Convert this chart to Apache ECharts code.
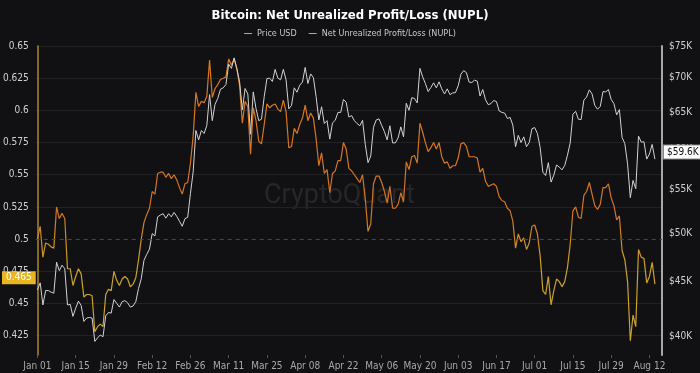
<!DOCTYPE html>
<html><head><meta charset="utf-8">
<script src="https://cdn.jsdelivr.net/npm/echarts@6/dist/echarts.min.js"></script>
<style>html,body{margin:0;padding:0;background:#111114;}#chart{width:700px;height:373px;}</style>
</head><body><div id="chart"></div>
<script>
const startDate = '2024-01-01';
const priceUSD = [
44200,44900,42800,44150,44150,44000,43900,46950,46100,46650,46300,42800,42850,41750,42500,43150,42750,41300,41600,41650,
41600,39550,39850,40100,39950,41800,42100,42050,43300,42950,42600,43100,43200,43000,42600,42700,43100,44350,45300,47150,
47750,48300,49950,49700,51800,52000,52150,51650,52150,51800,52300,51850,51300,50750,51600,51750,54500,57100,62450,61200,
62450,62050,63150,67500,63800,66100,66950,68300,68500,69000,72100,71450,73100,71400,69400,65300,68400,67600,61950,67900,
65500,63800,64000,67200,69900,69950,69450,71300,69950,69700,71300,69700,65450,65950,68500,67850,68900,69350,71600,69150,
70600,70050,67200,63900,65750,63400,63800,61300,63500,63850,64950,64950,66800,66400,64300,64500,63800,63400,63100,63850,
60600,58250,59100,62900,63900,64050,63150,62300,61200,63100,60800,60800,61450,62950,61600,66250,65250,67050,66950,66300,
71450,70150,69150,67950,68550,69250,68500,69400,68350,67600,68350,67500,67750,67800,68800,70550,71100,70800,69350,69300,
69650,69500,67300,68250,66750,66050,66200,66650,66500,65150,64950,64850,64100,64250,63200,60300,61800,60850,61600,60300,
60850,62700,62850,62050,60200,57050,56650,58250,55850,56700,57950,57700,57350,57900,59200,60800,64700,65100,64000,63950,
66700,67150,68200,67600,65950,65400,65800,67950,67900,68250,66800,66200,64600,65350,61500,60700,58100,54000,56050,55050,
61700,60900,60950,58700,59350,60600,58700
];
const nupl = [
0.500,0.510,0.486,0.497,0.496,0.494,0.493,0.525,0.516,0.520,0.516,0.477,0.477,0.464,0.471,0.477,0.473,0.455,0.457,0.457,
0.456,0.428,0.432,0.434,0.432,0.457,0.461,0.460,0.475,0.468,0.464,0.469,0.471,0.469,0.463,0.465,0.470,0.484,0.500,0.513,
0.519,0.524,0.537,0.535,0.551,0.552,0.552,0.548,0.551,0.547,0.550,0.546,0.540,0.535,0.543,0.544,0.559,0.580,0.614,0.603,
0.607,0.606,0.611,0.639,0.610,0.617,0.620,0.624,0.625,0.626,0.640,0.635,0.640,0.632,0.619,0.590,0.607,0.603,0.566,0.602,
0.592,0.576,0.574,0.589,0.605,0.602,0.604,0.605,0.601,0.599,0.608,0.599,0.571,0.572,0.586,0.582,0.589,0.594,0.604,0.592,
0.598,0.594,0.578,0.557,0.567,0.551,0.554,0.536,0.551,0.553,0.561,0.561,0.575,0.570,0.555,0.553,0.550,0.547,0.544,0.550,
0.531,0.506,0.512,0.543,0.549,0.549,0.544,0.537,0.528,0.541,0.524,0.524,0.527,0.536,0.529,0.560,0.554,0.564,0.565,0.559,
0.590,0.583,0.575,0.568,0.571,0.575,0.570,0.575,0.564,0.559,0.560,0.555,0.557,0.557,0.563,0.574,0.575,0.572,0.564,0.564,
0.564,0.563,0.552,0.555,0.545,0.541,0.542,0.543,0.541,0.533,0.530,0.529,0.524,0.522,0.514,0.493,0.504,0.498,0.501,0.492,
0.497,0.510,0.511,0.504,0.487,0.460,0.457,0.471,0.449,0.460,0.469,0.467,0.463,0.467,0.478,0.496,0.522,0.525,0.517,0.516,
0.534,0.537,0.544,0.535,0.526,0.523,0.527,0.540,0.540,0.543,0.532,0.526,0.515,0.518,0.491,0.484,0.467,0.421,0.441,0.432,
0.492,0.486,0.485,0.466,0.471,0.482,0.465
];
const nuplTicks = [0.425,0.45,0.475,0.5,0.525,0.55,0.575,0.6,0.625,0.65];
const nuplGridTicks = [0.425,0.45,0.475,0.525,0.55,0.575,0.6,0.625,0.65];
const priceTicks = [40000,45000,50000,55000,60000,65000,70000,75000];
const dateTicks = ['2024-01-01','2024-01-15','2024-01-29','2024-02-12','2024-02-26','2024-03-11','2024-03-25','2024-04-08','2024-04-22','2024-05-06','2024-05-20','2024-06-03','2024-06-17','2024-07-01','2024-07-15','2024-07-29','2024-08-12'];
const dateTickLabels = ['Jan 01','Jan 15','Jan 29','Feb 12','Feb 26','Mar 11','Mar 25','Apr 08','Apr 22','May 06','May 20','Jun 03','Jun 17','Jul 01','Jul 15','Jul 29','Aug 12'];
const lastNuplLabel = 0.465;
const lastPriceLabel = 59600;

const DAY = 86400000;
const t0 = Date.parse(startDate + 'T00:00:00Z');
// x axis in day offsets from startDate
const tickDays = dateTicks.map(d => Math.round((Date.parse(d + 'T00:00:00Z') - t0) / DAY));
const priceData = priceUSD.map((v, i) => [i, v]);
const nuplData = nupl.map((v, i) => [i, v]);
const FONT = "'Liberation Sans Narrow','DejaVu Sans Condensed',Roboto,sans-serif";

const chart = echarts.init(document.getElementById('chart'), null, {renderer: 'canvas'});
chart.setOption({
  animation: false,
  backgroundColor: '#111114',
  textStyle: {fontFamily: FONT},
  title: {
    text: 'Bitcoin: Net Unrealized Profit/Loss (NUPL)',
    left: 'center', top: 4,
    textStyle: {color: '#ffffff', fontSize: 13, fontWeight: 'bold', fontFamily: FONT}
  },
  legend: {
    top: 24, left: 'center', itemWidth: 8, itemHeight: 1, itemGap: 12, icon: 'rect',
    textStyle: {color: '#c8c8c8', fontSize: 9, fontFamily: FONT},
    data: [
      {name: 'Price USD', itemStyle: {color: '#aaaaaa'}},
      {name: 'Net Unrealized Profit/Loss (NUPL)', itemStyle: {color: '#aaaaaa'}}
    ]
  },
  grid: {left: 33, right: 38, top: 46, bottom: 18},
  graphic: [{
    type: 'text', left: 264, top: 183, silent: true, z: 0,
    style: {text: 'CryptoQuant', fontSize: 27, fontFamily: 'Roboto, sans-serif', fill: 'rgba(255,255,255,0.09)'}
  }],
  visualMap: {
    show: false, type: 'continuous', seriesIndex: 1, dimension: 1,
    min: 0.40, max: 0.66,
    inRange: {color: ['#c9a227','#c9a227','#c9a227','#c9a227','#c9a227','#cc8c24','#d0741e','#d2741d','#d4751c','#d6761b','#d8771a','#d8771a','#d8771a','#d8771a']}
  },
  xAxis: {
    type: 'value',
    min: -0.62, max: 228.6,
    axisLine: {show: false},
    axisTick: {show: true, customValues: tickDays, length: 3, lineStyle: {color: '#555'}},
    axisLabel: {
      customValues: tickDays, color: '#a8a8a8', fontSize: 10, margin: 6, fontFamily: FONT,
      formatter: v => { const i = tickDays.indexOf(Math.round(v)); return i >= 0 ? dateTickLabels[i] : ''; }
    },
    splitLine: {show: false}
  },
  yAxis: [{
    type: 'value', position: 'left', min: 0.41, max: 0.65,
    axisLine: {show: true, lineStyle: {color: '#a8882a', width: 1.5}},
    axisTick: {show: false, customValues: nuplGridTicks},
    axisLabel: {customValues: nuplTicks, color: '#d0d0d0', fontSize: 10, margin: 7, fontFamily: FONT,
      formatter: v => String(+(+v).toFixed(3))},
    splitLine: {show: true, lineStyle: {color: '#222226', width: 1}}
  }, {
    type: 'log', logBase: 10, position: 'right', min: 38400, max: 75000,
    axisLine: {show: true, lineStyle: {color: '#a8a8a8', width: 2}},
    axisTick: {show: false},
    axisLabel: {customValues: priceTicks, color: '#d0d0d0', fontSize: 10, margin: 7, fontFamily: FONT,
      formatter: v => '$' + Math.round(v / 1000) + 'K'},
    splitLine: {show: false}
  }],
  series: [{
    name: 'Price USD', type: 'line', yAxisIndex: 1, data: priceData, showSymbol: false, z: 3,
    lineStyle: {color: '#d2d2d2', width: 1}, itemStyle: {color: '#aaaaaa'},
    markLine: {
      silent: true, symbol: ['none', 'none'],
      data: [{
        yAxis: lastPriceLabel,
        lineStyle: {color: 'rgba(0,0,0,0)', width: 0.1},
        label: {show: true, position: 'end', distance: 2, formatter: '$59.6K', color: '#111111',
          backgroundColor: '#ffffff', borderColor: '#888888', borderWidth: 1, padding: [2, 3, 1, 3], fontSize: 10, fontFamily: FONT}
      }]
    }
  }, {
    name: 'Net Unrealized Profit/Loss (NUPL)', type: 'line', yAxisIndex: 0, data: nuplData, showSymbol: false, z: 2,
    lineStyle: {width: 1.2}, itemStyle: {color: '#aaaaaa'},
    markLine: {
      silent: true, symbol: ['none', 'none'],
      data: [
        {yAxis: 0.5, lineStyle: {color: '#48484c', type: [4, 4], width: 1}, label: {show: false}},
        {yAxis: lastNuplLabel, lineStyle: {color: 'rgba(0,0,0,0)', width: 0.1},
          label: {show: true, position: 'start', distance: 0, formatter: '0.465', color: '#ffffff',
            backgroundColor: '#e8b620', padding: [2, 4, 1, 4], fontSize: 10, fontFamily: FONT}}
      ]
    }
  }]
});
</script></body></html>
